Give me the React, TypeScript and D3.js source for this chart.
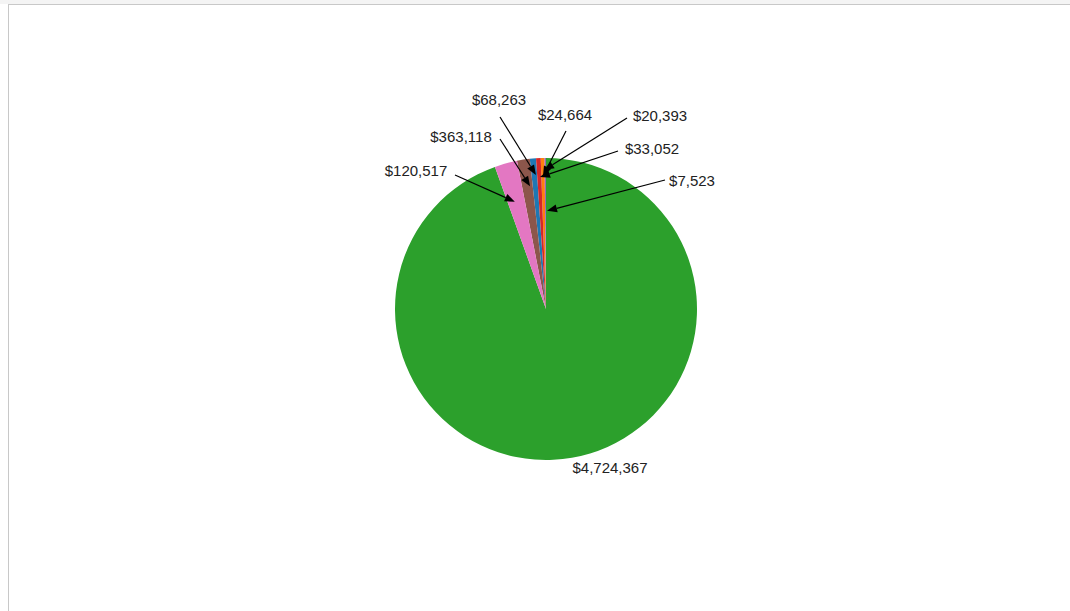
import * as d3 from "d3";

// slice values, in the order the colours are assigned (category10)
const sliceValues = [33052, 20393, 4724367, 24664, 7523, 68263, 120517];

// annotation texts as printed on the chart
const labelTexts = [
  "$120,517",
  "$363,118",
  "$68,263",
  "$24,664",
  "$20,393",
  "$33,052",
  "$7,523",
];
const totalLabel = "$4,724,367";

// layout of the callouts: text centre and line start relative to pie centre (px),
// arrow tip as [angle in degrees, fraction of radius]
const calloutLayout = [
  { text: [-130, -138], start: [-91, -134], tip: [-16.2, 0.74] },
  { text: [-85, -172], start: [-46, -170], tip: [-7.4, 0.82] },
  { text: [-47, -209], start: [-46, -192], tip: [-4.3, 0.89] },
  { text: [19, -194], start: [20, -178], tip: [-1.3, 0.88] },
  { text: [114, -193], start: [81, -191], tip: [-0.8, 0.92] },
  { text: [106, -160], start: [72, -158], tip: [-2.6, 0.875] },
  { text: [146, -128], start: [119, -129], tip: [0.6, 0.65] },
];

const W = 1070;
const H = 611;
const font = "'Liberation Sans', Arial, sans-serif";

export default function App() {
  const cx = 546;
  const cy = 309;
  const radius = 151;

  // default sortValues is descending, so the big slice starts at 12 o'clock
  const pie = d3.pie<number>().value((d) => d);
  const arcs = pie(sliceValues); // returned in data order
  const arc = d3
    .arc<d3.PieArcDatum<number>>()
    .innerRadius(0)
    .outerRadius(radius);
  const color = d3
    .scaleOrdinal<number, string>()
    .domain(d3.range(sliceValues.length))
    .range(d3.schemeCategory10);

  const callouts = labelTexts.map((t, i) => {
    const l = calloutLayout[i];
    const [tx, ty] = d3.pointRadial((l.tip[0] * Math.PI) / 180, l.tip[1] * radius);
    const [sx, sy] = l.start;
    const dx = tx - sx;
    const dy = ty - sy;
    const len = Math.hypot(dx, dy);
    const ux = dx / len;
    const uy = dy / len;
    const headLen = 10;
    const headW = 4;
    const bx = tx - ux * headLen;
    const by = ty - uy * headLen;
    const head = [
      [tx, ty],
      [bx - uy * headW, by + ux * headW],
      [bx + uy * headW, by - ux * headW],
    ];
    return { t, l, tx, ty, sx, sy, bx, by, head };
  });

  return (
    <div style={{ position: "fixed", left: 0, top: 0, width: W, height: H, background: "#fff" }}>
      <svg width={W} height={H} style={{ display: "block" }}>
        <rect x={0} y={0} width={W} height={4} fill="#f4f4f4" />
        <line x1={8} x2={W} y1={4.5} y2={4.5} stroke="#c8c8c8" />
        <line x1={8.5} x2={8.5} y1={4} y2={H} stroke="#c8c8c8" />
        <g transform={`translate(${cx},${cy})`}>
          {arcs.map((a, i) => (
            <path key={i} d={arc(a) ?? ""} fill={color(i)} />
          ))}
          {callouts.map((c, i) => (
            <g key={i}>
              <line
                x1={c.sx}
                y1={c.sy}
                x2={c.bx}
                y2={c.by}
                stroke="#000"
                strokeWidth={1.2}
              />
              <polygon points={c.head.map((p) => p.join(",")).join(" ")} fill="#000" />
              <text
                x={c.l.text[0]}
                y={c.l.text[1]}
                dy="0.35em"
                textAnchor="middle"
                fontFamily={font}
                fontSize={15}
                fill="#222"
              >
                {c.t}
              </text>
            </g>
          ))}
          <text
            x={64}
            y={159}
            dy="0.35em"
            textAnchor="middle"
            fontFamily={font}
            fontSize={15}
            fill="#222"
          >
            {totalLabel}
          </text>
        </g>
      </svg>
    </div>
  );
}
